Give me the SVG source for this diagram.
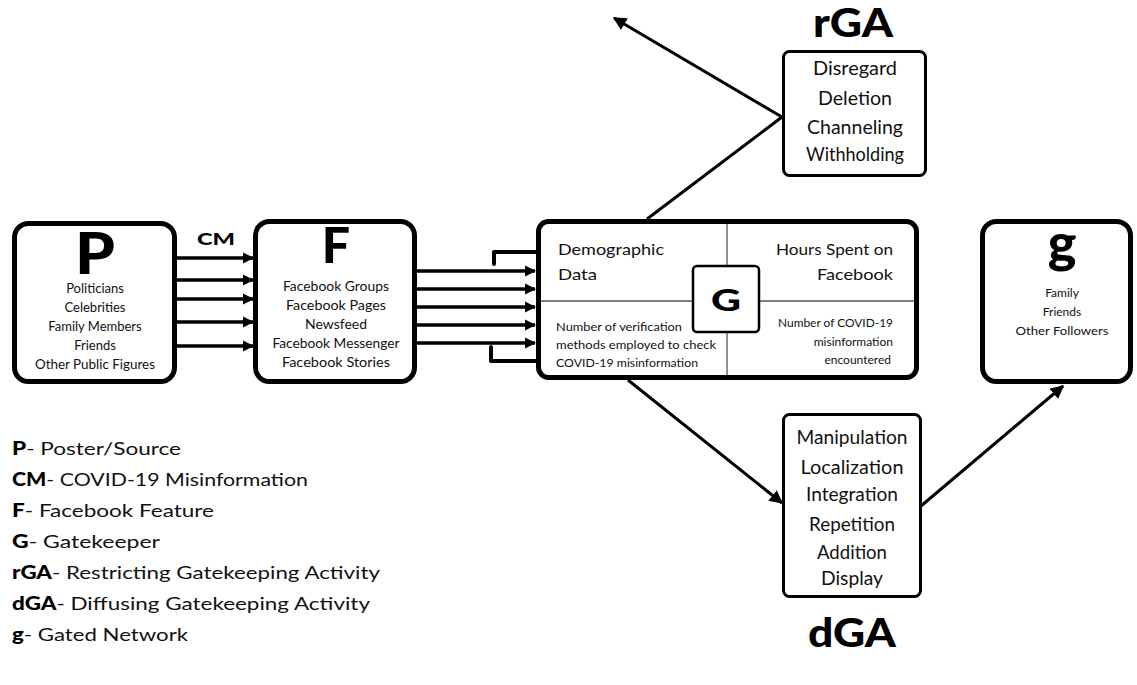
<svg xmlns="http://www.w3.org/2000/svg" width="1137" height="685" viewBox="0 0 1137 685">
<defs>
<marker id="ah" viewBox="0 0 10 10" refX="9" refY="5" markerWidth="3.2" markerHeight="3.2" orient="auto" markerUnits="strokeWidth">
<path d="M0,0 L10,5 L0,10 z" fill="#000"/>
</marker>
<marker id="ah2" viewBox="0 0 10 10" refX="9" refY="5" markerWidth="4.5" markerHeight="4.5" orient="auto" markerUnits="strokeWidth">
<path d="M0,0 L10,5 L0,10 z" fill="#000"/>
</marker>
</defs>
<style>
.big{fill:#fff;stroke:#000;stroke-width:5}
.mid{fill:#fff;stroke:#000;stroke-width:3}
.t{font-family:Lato,"Noto Sans",sans-serif;fill:#111}
.b{font-family:Lato,"Liberation Sans",sans-serif;font-weight:900;fill:#000}
.c{text-anchor:middle}
.r{text-anchor:end}
.s13{font-size:13px}
.s12{font-size:12px}
.s15{font-size:16px}
.s18{font-size:18.5px}
.lg{font-size:18px}
.ar{stroke:#000;stroke-width:3.5;fill:none;marker-end:url(#ah)}
.dg{stroke:#000;stroke-width:3;fill:none;marker-end:url(#ah2)}
.ln{stroke:#000;stroke-width:3;fill:none}
.br{stroke:#000;stroke-width:4;fill:none;stroke-linecap:round;stroke-linejoin:round}
.thin{stroke:#555;stroke-width:1.3}
</style>
<rect width="1137" height="685" fill="#fff"/>

<g id="connectors">
<line class="ar" x1="177" y1="258" x2="253" y2="258"/>
<line class="ar" x1="177" y1="280" x2="253" y2="280"/>
<line class="ar" x1="177" y1="299" x2="253" y2="299"/>
<line class="ar" x1="177" y1="322" x2="253" y2="322"/>
<line class="ar" x1="177" y1="346" x2="253" y2="346"/>
<line class="ar" x1="417" y1="271" x2="535" y2="271"/>
<line class="ar" x1="417" y1="289" x2="535" y2="289"/>
<line class="ar" x1="417" y1="307" x2="535" y2="307"/>
<line class="ar" x1="417" y1="325" x2="535" y2="325"/>
<line class="ar" x1="417" y1="343" x2="535" y2="343"/>
<path class="br" d="M494,264 V252 H536"/>
<path class="br" d="M491,347 V361 H536"/>
<path class="ln" d="M647,219 L782,117"/>
<line class="dg" x1="782" y1="117" x2="614" y2="18"/>
<line class="dg" x1="628" y1="380" x2="782" y2="503"/>
<line class="dg" x1="921" y1="506" x2="1063" y2="386"/>
<text class="b c" x="216" y="245" font-size="17" textLength="38" lengthAdjust="spacingAndGlyphs">CM</text>
</g>

<g id="node-P">
<rect class="big" x="14.5" y="223.5" width="160" height="158" rx="14"/>
<text class="b c" x="95" y="274" font-size="58" textLength="40" lengthAdjust="spacingAndGlyphs">P</text>
<text class="t c s13" x="95" y="293">Politicians</text>
<text class="t c s13" x="95" y="312">Celebrities</text>
<text class="t c s13" x="95" y="331">Family Members</text>
<text class="t c s13" x="95" y="350">Friends</text>
<text class="t c s13" x="95" y="369" textLength="120" lengthAdjust="spacingAndGlyphs">Other Public Figures</text>
</g>

<g id="node-F">
<rect class="big" x="255.5" y="221.5" width="159" height="160" rx="14"/>
<text class="b c" x="336" y="263" font-size="50">F</text>
<text class="t c s13" x="336" y="291" textLength="106" lengthAdjust="spacingAndGlyphs">Facebook Groups</text>
<text class="t c s13" x="336" y="310" textLength="100" lengthAdjust="spacingAndGlyphs">Facebook Pages</text>
<text class="t c s13" x="336" y="329" textLength="62" lengthAdjust="spacingAndGlyphs">Newsfeed</text>
<text class="t c s13" x="336" y="348" textLength="127" lengthAdjust="spacingAndGlyphs">Facebook Messenger</text>
<text class="t c s13" x="336" y="367" textLength="108" lengthAdjust="spacingAndGlyphs">Facebook Stories</text>
</g>

<g id="node-G">
<rect class="big" x="538.5" y="221.5" width="378" height="156" rx="10"/>
<line class="thin" x1="727" y1="224" x2="727" y2="375"/>
<line class="thin" x1="541" y1="301" x2="914" y2="301"/>
<text class="t s15" x="558" y="255" textLength="106" lengthAdjust="spacingAndGlyphs">Demographic</text>
<text class="t s15" x="558" y="280" textLength="39" lengthAdjust="spacingAndGlyphs">Data</text>
<text class="t r s15" x="893" y="255" textLength="117" lengthAdjust="spacingAndGlyphs">Hours Spent on</text>
<text class="t r s15" x="893" y="280" textLength="76" lengthAdjust="spacingAndGlyphs">Facebook</text>
<text class="t s12" x="556" y="331" textLength="126" lengthAdjust="spacingAndGlyphs">Number of verification</text>
<text class="t s12" x="556" y="349" textLength="160" lengthAdjust="spacingAndGlyphs">methods employed to check</text>
<text class="t s12" x="556" y="367" textLength="142" lengthAdjust="spacingAndGlyphs">COVID-19 misinformation</text>
<text class="t r s12" x="893" y="327" textLength="115" lengthAdjust="spacingAndGlyphs">Number of COVID-19</text>
<text class="t r s12" x="893" y="346">misinformation</text>
<text class="t r s12" x="891" y="364">encountered</text>
<rect x="693" y="266" width="66" height="66" rx="4" fill="#fff" stroke="#000" stroke-width="2.5"/>
<text class="b c" x="726" y="311" font-size="31" textLength="30" lengthAdjust="spacingAndGlyphs">G</text>
</g>

<g id="node-rGA">
<text class="b c" x="853" y="37" font-size="40" textLength="80" lengthAdjust="spacingAndGlyphs">rGA</text>
<rect class="mid" x="783.5" y="51.5" width="142" height="124" rx="6"/>
<text class="t c s18" x="855" y="75" textLength="84" lengthAdjust="spacingAndGlyphs">Disregard</text>
<text class="t c s18" x="855" y="105" textLength="74" lengthAdjust="spacingAndGlyphs">Deletion</text>
<text class="t c s18" x="855" y="134" textLength="96" lengthAdjust="spacingAndGlyphs">Channeling</text>
<text class="t c s18" x="855" y="161" textLength="98" lengthAdjust="spacingAndGlyphs">Withholding</text>
</g>

<g id="node-dGA">
<rect class="mid" x="783.5" y="414.5" width="137" height="182" rx="6"/>
<text class="t c s18" x="852" y="444" textLength="111" lengthAdjust="spacingAndGlyphs">Manipulation</text>
<text class="t c s18" x="852" y="474" textLength="103" lengthAdjust="spacingAndGlyphs">Localization</text>
<text class="t c s18" x="852" y="501" textLength="92" lengthAdjust="spacingAndGlyphs">Integration</text>
<text class="t c s18" x="852" y="531" textLength="86" lengthAdjust="spacingAndGlyphs">Repetition</text>
<text class="t c s18" x="852" y="559" textLength="70" lengthAdjust="spacingAndGlyphs">Addition</text>
<text class="t c s18" x="852" y="585" textLength="62" lengthAdjust="spacingAndGlyphs">Display</text>
<text class="b c" x="852" y="647" font-size="40" textLength="88" lengthAdjust="spacingAndGlyphs">dGA</text>
</g>

<g id="node-g">
<rect class="big" x="982.5" y="221.5" width="148" height="160" rx="14"/>
<text class="b c" x="1062" y="262" font-size="54">g</text>
<text class="t c s12" x="1062" y="297">Family</text>
<text class="t c s12" x="1062" y="316">Friends</text>
<text class="t c s12" x="1062" y="335" textLength="93" lengthAdjust="spacingAndGlyphs">Other Followers</text>
</g>

<g id="legend">
<text class="t lg" x="12" y="455" textLength="169" lengthAdjust="spacingAndGlyphs"><tspan class="b">P</tspan>- Poster/Source</text>
<text class="t lg" x="12" y="486" textLength="296" lengthAdjust="spacingAndGlyphs"><tspan class="b">CM</tspan>- COVID-19 Misinformation</text>
<text class="t lg" x="12" y="517" textLength="202" lengthAdjust="spacingAndGlyphs"><tspan class="b">F</tspan>- Facebook Feature</text>
<text class="t lg" x="12" y="548" textLength="148" lengthAdjust="spacingAndGlyphs"><tspan class="b">G</tspan>- Gatekeeper</text>
<text class="t lg" x="12" y="579" textLength="368" lengthAdjust="spacingAndGlyphs"><tspan class="b">rGA</tspan>- Restricting Gatekeeping Activity</text>
<text class="t lg" x="12" y="610" textLength="358" lengthAdjust="spacingAndGlyphs"><tspan class="b">dGA</tspan>- Diffusing Gatekeeping Activity</text>
<text class="t lg" x="12" y="641" textLength="176" lengthAdjust="spacingAndGlyphs"><tspan class="b">g</tspan>- Gated Network</text>
</g>
</svg>
